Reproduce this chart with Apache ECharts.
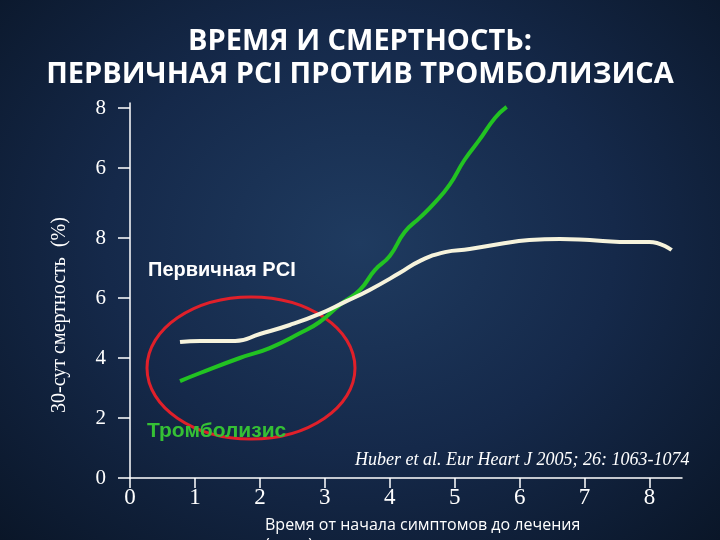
<!DOCTYPE html>
<html>
<head>
<meta charset="utf-8">
<script src="https://cdn.jsdelivr.net/npm/echarts@6/dist/echarts.min.js"></script>
<style>
  html, body { margin: 0; padding: 0; }
  #chart {
    width: 720px; height: 540px;
    background: radial-gradient(ellipse at 50% 45%, #1f3b60 0%, #15294a 50%, #0a1628 100%);
  }
</style>
</head>
<body>
<div id="chart"></div>
<script>
// broken y axis: tick positions and the labels shown at them
const yTickValues = [0, 2, 4, 6, 8, 10.33, 12.33];
const yTickLabels = ['0', '2', '4', '6', '8', '6', '8'];
const xTicks = [0, 1, 2, 3, 4, 5, 6, 7, 8];

// thrombolysis (green)
const lysisX = [0.77, 1.08, 1.69, 2.15, 2.62, 2.92, 3.23, 3.54, 3.77, 4.0, 4.23, 4.46, 4.69, 4.92, 5.15, 5.38, 5.62, 5.80];
const lysisY = [3.23, 3.5, 4.0, 4.33, 4.83, 5.2, 5.77, 6.27, 6.93, 7.4, 8.2, 8.67, 9.17, 9.77, 10.6, 11.27, 12.0, 12.37];

// primary PCI (white)
const pciX = [0.77, 1.08, 1.62, 2.0, 2.46, 2.92, 3.31, 3.69, 4.15, 4.46, 4.85, 5.23, 5.69, 6.15, 6.62, 7.08, 7.54, 8.0, 8.34];
const pciY = [4.53, 4.57, 4.57, 4.8, 5.1, 5.47, 5.87, 6.27, 6.83, 7.23, 7.53, 7.63, 7.8, 7.93, 7.97, 7.93, 7.87, 7.87, 7.6];

const zip = (xs, ys) => xs.map((x, i) => [x, ys[i]]);

const chart = echarts.init(document.getElementById('chart'));
chart.setOption({
  title: {
    text: 'ВРЕМЯ И СМЕРТНОСТЬ:\nПЕРВИЧНАЯ PCI ПРОТИВ ТРОМБОЛИЗИСА',
    left: 'center',
    top: 20,
    textStyle: { color: '#fff', fontFamily: 'Open Sans', fontWeight: 'bold', fontSize: 29, lineHeight: 33 }
  },
  grid: { left: 130, right: 38, top: 103, bottom: 62 },
  xAxis: {
    type: 'value',
    min: 0, max: 8.5, interval: 1,
    axisLine: { lineStyle: { color: '#fff', width: 1.5 } },
    axisTick: { length: 10, lineStyle: { color: '#fff', width: 1.5 } },
    axisLabel: {
      color: '#fff', fontFamily: 'Liberation Serif', fontSize: 23, margin: 8,
      showMaxLabel: false,
      formatter: v => xTicks.includes(v) ? String(v) : ''
    },
    splitLine: { show: false }
  },
  yAxis: {
    type: 'value',
    min: 0, max: 12.5,
    axisLine: { show: true, lineStyle: { color: '#fff', width: 1.5 } },
    axisTick: { length: 12, customValues: yTickValues, lineStyle: { color: '#fff', width: 1.5 } },
    axisLabel: {
      color: '#fff', fontFamily: 'Liberation Serif', fontSize: 21, margin: 24,
      customValues: yTickValues,
      formatter: v => yTickLabels[yTickValues.indexOf(v)] ?? ''
    },
    splitLine: { show: false }
  },
  series: [
    {
      name: 'Тромболизис', type: 'line', smooth: true, symbol: 'none',
      data: zip(lysisX, lysisY),
      lineStyle: { color: '#22c322', width: 4 }
    },
    {
      name: 'Первичная PCI', type: 'line', smooth: true, symbol: 'none',
      data: zip(pciX, pciY),
      lineStyle: { color: '#f6f3dc', width: 4 }
    }
  ],
  graphic: [
    { type: 'ellipse', shape: { cx: 251, cy: 368, rx: 104, ry: 71 },
      style: { fill: 'none', stroke: '#e0202a', lineWidth: 3 } },
    { type: 'text', left: 148, top: 260,
      style: { text: 'Первичная PCI', fill: '#fff', font: 'bold 20px "Liberation Sans"' } },
    { type: 'text', left: 147, top: 421,
      style: { text: 'Тромболизис', fill: '#35c035', font: 'bold 21px "Liberation Sans"' } },
    { type: 'text', left: 355, top: 451,
      style: { text: 'Huber et al. Eur Heart J 2005; 26: 1063-1074', fill: '#fff', font: 'italic 18px "Liberation Serif"' } },
    { type: 'text', left: 265, top: 515,
      style: { text: 'Время от начала симптомов до лечения\n(часы)', fill: '#fff', font: '16px "Open Sans"', lineHeight: 20 } },
    { type: 'text', x: 60, y: 315, rotation: Math.PI / 2,
      style: { text: '30-сут смертность  (%)', fill: '#fff', font: '20px "Liberation Serif"', align: 'center', verticalAlign: 'middle' } }
  ]
});
</script>
</body>
</html>
